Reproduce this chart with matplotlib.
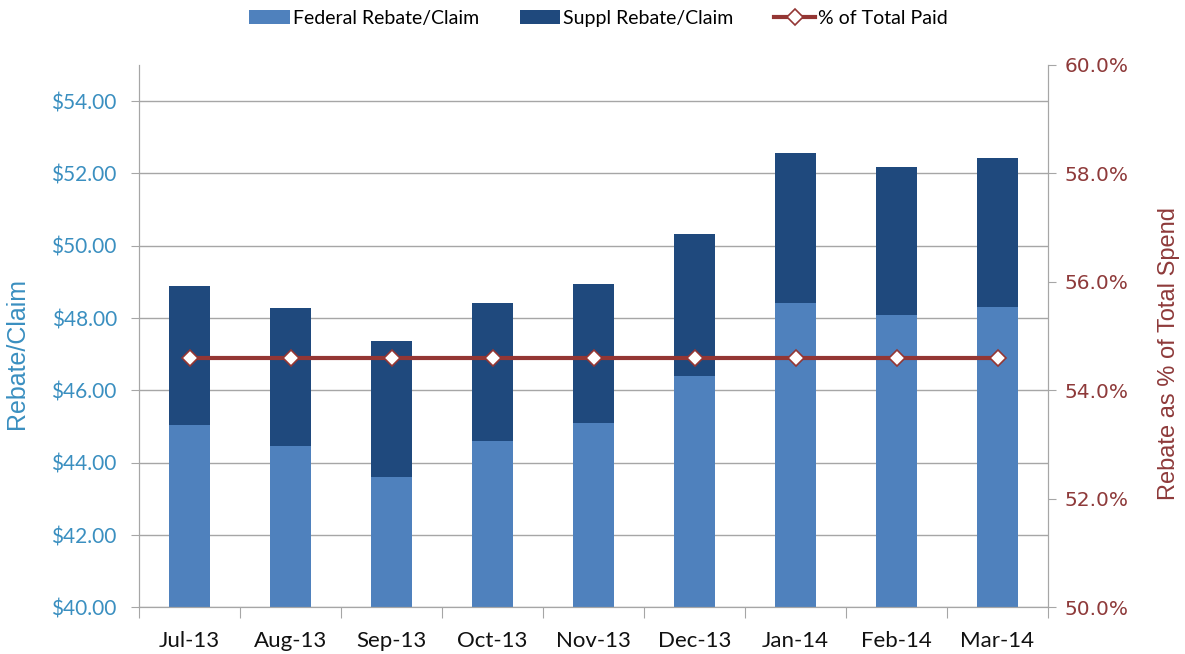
import matplotlib
matplotlib.use("Agg")
import matplotlib.pyplot as plt
import numpy as np
from matplotlib.ticker import FuncFormatter, FixedLocator

months = ["Jul-13", "Aug-13", "Sep-13", "Oct-13", "Nov-13", "Dec-13", "Jan-14", "Feb-14", "Mar-14"]
federal = [45.04, 44.47, 43.61, 44.61, 45.11, 46.39, 48.42, 48.10, 48.31]
suppl = [3.85, 3.80, 3.75, 3.80, 3.83, 3.94, 4.15, 4.08, 4.12]
pct_paid = [54.6, 54.6, 54.6, 54.6, 54.6, 54.6, 54.6, 54.6, 54.6]

c_fed = "#4F81BD"
c_sup = "#1F497D"
c_line = "#943634"
c_left = "#3A8FC0"
c_right = "#8E3A3A"
c_grid = "#A6A6A6"

fig = plt.figure(figsize=(11.85, 6.54), dpi=100)
ax = fig.add_axes([139 / 1185, 1 - 607.4 / 654, (1048 - 139) / 1185, (607.4 - 65) / 654])
ax2 = ax.twinx()

x = np.arange(len(months))
base = 40.0
fed_h = [v - base for v in federal]
b1 = ax.bar(x, fed_h, bottom=base, width=0.4, color=c_fed, label="Federal Rebate/Claim", zorder=2)
b2 = ax.bar(x, suppl, bottom=federal, width=0.4, color=c_sup, label="Suppl Rebate/Claim", zorder=2)

ax.set_xlim(-0.5, len(months) - 0.5)
ax.set_ylim(40, 55)
ax.yaxis.set_major_locator(FixedLocator(np.arange(40, 55, 2)))
ax.yaxis.set_major_formatter(FuncFormatter(lambda v, p: f"${v:.2f}"))
ax.grid(axis="y", color=c_grid, linewidth=1.0, zorder=0)
ax.set_axisbelow(True)

# category boundaries carry the x tick marks, labels sit at the centres
ax.set_xticks(np.arange(-0.5, len(months), 1.0))
ax.set_xticklabels([])
ax.set_xticks(x, minor=True)
ax.set_xticklabels(months, minor=True, fontsize=16, family="Lato")
ax.tick_params(axis="x", which="major", length=8, color=c_grid, direction="out")
ax.tick_params(axis="x", which="minor", length=0, pad=17, labelcolor="#111111")
ax.tick_params(axis="y", length=6, color=c_grid, labelsize=15, labelcolor=c_left, pad=10)
for t in ax.get_yticklabels():
    t.set_family("Lato")

for side in ["top"]:
    ax.spines[side].set_visible(False)
    ax2.spines[side].set_visible(False)
for side in ["left", "bottom", "right"]:
    ax.spines[side].set_color(c_grid)
    ax2.spines[side].set_color(c_grid)

ax.set_ylabel("Rebate/Claim", fontsize=18, color=c_left, family="Liberation Sans")
ax.yaxis.set_label_coords(-0.121, 0.469)

ln, = ax2.plot(x, pct_paid, color=c_line, linewidth=3, marker="D", markersize=8,
               markerfacecolor="white", markeredgecolor=c_line, markeredgewidth=1.2,
               label="% of Total Paid", zorder=3)
ax2.set_ylim(50, 60)
ax2.yaxis.set_major_locator(FixedLocator(np.arange(50, 60.1, 2)))
ax2.yaxis.set_major_formatter(FuncFormatter(lambda v, p: f"{v:.1f}%"))
ax2.tick_params(axis="y", length=6, color=c_grid, labelsize=14.5, labelcolor=c_right, pad=6)
for t in ax2.get_yticklabels():
    t.set_family("DejaVu Sans")
ax2.set_ylabel("Rebate as % of Total Spend", fontsize=17, color=c_right,
               family="Liberation Sans")
ax2.yaxis.set_label_coords(1.121, 0.469)

fig.legend(handles=[b1, b2, ln], loc="center", bbox_to_anchor=(0.505, 0.972), ncol=3,
           frameon=False, prop={"family": "Lato", "size": 14}, handlelength=2.1,
           handleheight=0.7, handletextpad=0.15, columnspacing=2.1)

fig.savefig("out.png", dpi=100)
